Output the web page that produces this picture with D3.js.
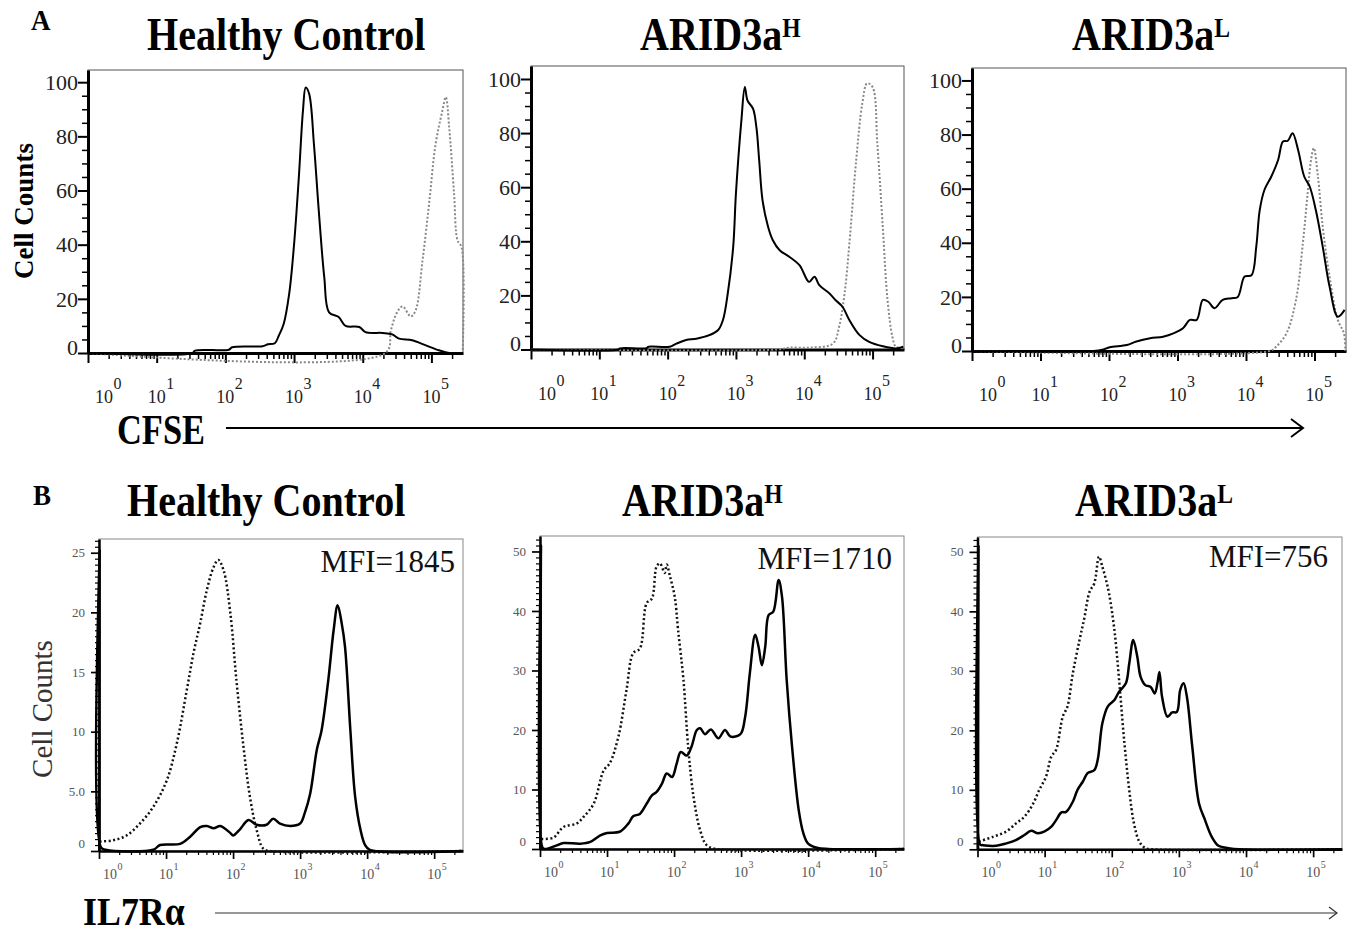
<!DOCTYPE html>
<html>
<head>
<meta charset="utf-8">
<script src="https://cdn.jsdelivr.net/npm/d3@7/dist/d3.min.js"></script>
<style>
  body { margin: 0; background: #fff; }
  svg { display: block; }
</style>
</head>
<body>
<div id="chart"></div>
<script>
var FONT = '"Liberation Serif", "Times New Roman", serif';

/* DATA : [log10 fluorescence, cell count] */

/* A - CFSE, solid = stimulated, dotted = unstimulated */
var cfseHealthySolid = [[0,0],[1.52,0],[1.56,0.9],[2.05,1.2],[2.1,2.1],[2.54,2.5],[2.62,3.2],[2.72,3.6],[2.78,6.5],[2.85,10.8],[2.93,22],[3.0,40],[3.07,65],[3.13,89.5],[3.17,98],[3.22,95.7],[3.29,77],[3.36,52.6],[3.44,28],[3.51,15],[3.65,13.3],[3.75,10],[3.95,9.6],[4.04,7.7],[4.29,7.4],[4.43,6.9],[4.53,5.3],[4.72,4.7],[4.92,2.8],[5.11,1],[5.26,0],[5.46,0]];
var cfseHealthyDotted = [[0,0],[4.33,0],[4.41,8.4],[4.5,15],[4.58,17.2],[4.7,13.5],[4.77,15.7],[4.87,34],[4.97,56],[5.06,77],[5.16,89.5],[5.21,94.5],[5.26,83],[5.33,58.8],[5.38,41.6],[5.44,39],[5.455,0]];

var cfseHighSolid = [[0,0],[1.28,0],[1.3,0.4],[1.69,0.5],[1.72,1],[2.03,1],[2.13,2.2],[2.27,3.5],[2.42,4],[2.61,5.3],[2.74,7.2],[2.81,10.9],[2.88,20.7],[2.96,38],[3.0,57.7],[3.08,84.8],[3.13,97],[3.17,92],[3.25,89],[3.3,82],[3.34,70],[3.39,55],[3.47,45.4],[3.54,40.4],[3.64,36.7],[3.78,34.3],[3.93,31.2],[4.07,25],[4.15,26.9],[4.22,23.8],[4.37,20.7],[4.46,18.2],[4.56,15.8],[4.66,10.9],[4.81,5.3],[4.95,2.8],[5.15,1.2],[5.34,0.4],[5.45,1]];
var cfseHighDotted = [[0,0],[3.6,0],[3.78,0.7],[4.1,0.7],[4.42,2.2],[4.51,8.4],[4.59,20.7],[4.66,39],[4.76,70],[4.85,91],[4.92,98.4],[5.0,97],[5.07,76],[5.15,45],[5.22,18],[5.29,4.7],[5.34,1],[5.45,0.5]];

var cfseLowSolid = [[0,0],[1.77,0],[1.92,0.6],[2.01,1.4],[2.26,2.2],[2.4,3.5],[2.6,4.7],[2.79,5.3],[2.94,6.5],[3.08,8.4],[3.18,11.5],[3.28,11.5],[3.37,18.9],[3.45,18.2],[3.54,15.8],[3.66,18.9],[3.79,19.5],[3.88,20],[3.98,27.5],[4.08,28],[4.15,38.6],[4.2,52],[4.27,59.6],[4.37,64.5],[4.47,70.7],[4.54,77.4],[4.61,77.7],[4.68,80.5],[4.76,74.4],[4.85,64.5],[4.93,60.8],[5.02,52],[5.12,38.6],[5.22,23.8],[5.34,12.7],[5.44,15.2]];
var cfseLowDotted = [[0,0],[4.34,0],[4.44,1.6],[4.59,6.5],[4.73,18.9],[4.83,39.8],[4.9,58.3],[4.95,70.7],[4.99,75],[5.05,64.5],[5.12,46],[5.22,27.5],[5.34,11.5],[5.43,6.5],[5.45,0]];

/* B - IL7Ra, solid = stain, dotted = isotype */
var il7HealthySolid = [[0.005,0],[0.01,25.2],[0.03,0.3],[0.1,0.1],[0.81,0.1],[0.91,0.5],[1.21,0.6],[1.36,1.2],[1.51,2],[1.61,2.1],[1.71,1.9],[1.81,2.1],[1.96,1.5],[2.0,1.3],[2.1,1.8],[2.23,2.6],[2.35,2.2],[2.5,2.2],[2.6,2.7],[2.7,2.3],[2.85,2.1],[3.0,2.3],[3.07,3.2],[3.15,4.8],[3.25,8.5],[3.32,10.1],[3.42,14.3],[3.5,18.5],[3.56,20.6],[3.62,19.1],[3.67,17.1],[3.75,10.1],[3.82,4.6],[3.9,1.8],[3.97,0.5],[4.04,0.1],[5.43,0]];
var il7HealthyDotted = [[0.01,0.8],[0.21,0.9],[0.41,1.3],[0.61,2.3],[0.81,3.7],[1.01,5.9],[1.16,9],[1.31,13.5],[1.41,16.6],[1.51,19.1],[1.61,21.9],[1.71,23.8],[1.78,24.4],[1.86,23.5],[1.96,19.9],[2.05,14.3],[2.15,9],[2.25,4.6],[2.35,1.8],[2.45,0.2],[2.55,0],[5.43,0]];

var il7HighSolid = [[0.005,0],[0.015,51],[0.035,0.3],[0.07,0],[0.25,0.6],[0.35,1],[0.6,0.9],[0.75,1.2],[0.9,2.3],[1.0,2.7],[1.19,2.9],[1.32,4.3],[1.39,5.5],[1.49,5.9],[1.59,7.6],[1.67,9],[1.74,9.6],[1.82,11],[1.89,12.7],[1.97,12.1],[2.04,14.4],[2.1,16.3],[2.19,15.7],[2.26,17.2],[2.34,20],[2.39,20.3],[2.46,19.3],[2.55,20.1],[2.66,18.6],[2.76,20],[2.84,18.9],[2.99,19.3],[3.06,22.2],[3.13,29.5],[3.21,36],[3.26,34],[3.31,30.9],[3.36,34],[3.41,39.3],[3.48,39.9],[3.56,45.2],[3.61,42.4],[3.68,28.4],[3.76,17.2],[3.86,6.5],[3.93,2.6],[4.0,0.9],[4.13,0.2],[4.3,0],[5.43,0]];
var il7HighDotted = [[0.02,1.7],[0.2,1.9],[0.35,3.7],[0.55,4.3],[0.65,5.4],[0.8,7.6],[0.95,13.2],[1.04,14.4],[1.17,18.9],[1.29,26.7],[1.39,32.9],[1.49,33.7],[1.59,41.3],[1.67,42.1],[1.74,47.5],[1.79,48],[1.86,46.4],[1.89,47.8],[1.94,45.8],[2.01,42.4],[2.06,36.8],[2.14,28.4],[2.21,17.2],[2.29,8.8],[2.39,3.1],[2.49,0.6],[2.64,0],[5.43,0]];

var il7LowSolid = [[0.005,0],[0.015,51],[0.04,0.8],[0.08,0.7],[0.28,0.6],[0.43,1],[0.58,1.6],[0.7,2.4],[0.8,3.1],[0.9,2.7],[1.0,3],[1.1,3.8],[1.17,4.9],[1.25,6.2],[1.32,6.3],[1.42,8],[1.49,10],[1.57,11.4],[1.64,12.8],[1.74,13.3],[1.79,15],[1.86,21.2],[1.94,24],[2.04,25.1],[2.11,26.5],[2.21,27.9],[2.26,31.2],[2.32,35.2],[2.38,32.4],[2.43,29],[2.5,27.6],[2.58,27.3],[2.64,26.2],[2.68,27.9],[2.71,29.8],[2.75,25.6],[2.83,22.3],[2.9,23],[2.97,23.1],[3.02,26.8],[3.07,27.9],[3.12,25.6],[3.2,17.2],[3.3,7.7],[3.39,4.9],[3.49,2.1],[3.59,0.6],[3.74,0.2],[3.9,0],[5.43,0]];
var il7LowDotted = [[0.02,1.3],[0.23,2.1],[0.43,3],[0.58,4.4],[0.7,5.5],[0.83,7.7],[0.92,10],[1.02,12.2],[1.1,15.6],[1.17,16.7],[1.27,22.3],[1.34,24],[1.42,29.6],[1.52,35.2],[1.59,38.8],[1.67,43.3],[1.74,44.7],[1.81,49.2],[1.86,47.5],[1.91,45.5],[1.96,43],[2.04,36.8],[2.11,28.4],[2.18,18.9],[2.26,10],[2.33,4.4],[2.41,1.3],[2.5,0.2],[2.6,0],[5.43,0]];

/* labels and ticks */
var groupTitles = ["Healthy Control", "ARID3a", "ARID3a"];
var groupSups = ["", "H", "L"];
var decades = [0, 1, 2, 3, 4, 5];
var cfseYTicks = [0, 20, 40, 60, 80, 100];
var il7YTicksHealthy = [0, 5, 10, 15, 20, 25];
var il7YLabelsHealthy = ["0", "5.0", "10", "15", "20", "25"];
var il7YTicksARID = [0, 10, 20, 30, 40, 50];
var mfiLabels = ["MFI=1845", "MFI=1710", "MFI=756"];

/* MAIN PROGRAM */

var svg = d3.select("#chart").append("svg")
    .attr("width", 1355)
    .attr("height", 933)
    .style("font-family", FONT);

/* style for each row of panels */
var styleA = {
    xmaxExp: 5.46, axisW: 3, tickW: 1.5, majorLen: 10, minorLen: 6,
    yLabelGap: 10, yLabelSize: 22, yLabelFill: "#222", zeroDy: -6,
    xBase: 18, xSup: 16, xLabelDy: 50, xSupDy: 36, zeroDx: 16, xLabelFill: "#222",
    frame: "#555", solidW: 2, dotColor: "#888", dotW: 2, dotDash: "2,2"
};
var styleB = {
    xmaxExp: 5.43, axisW: 2.5, tickW: 1.2, majorLen: 8, minorLen: 4,
    yLabelGap: 14, yLabelSize: 13, yLabelFill: "#555", zeroDy: -8,
    xBase: 14, xSup: 10, xLabelDy: 28, xSupDy: 19, zeroDx: 11, xLabelFill: "#555",
    frame: "#888", solidW: 2.5, dotColor: "#111", dotW: 2.5, dotDash: "2,2.5"
};

var cfsePanels = [
    { l: 88,  r: 463,  t: 70, b: 353,   ymax: 104.5, solid: cfseHealthySolid, dotted: cfseHealthyDotted },
    { l: 531, r: 904,  t: 66, b: 349.5, ymax: 104.8, solid: cfseHighSolid,    dotted: cfseHighDotted },
    { l: 972, r: 1346, t: 68, b: 351,   ymax: 104.6, solid: cfseLowSolid,     dotted: cfseLowDotted }
];
cfsePanels.forEach(function (p) { p.yTicks = cfseYTicks; p.yLabels = cfseYTicks.map(String); p.yStep = 5; });

var il7Panels = [
    { l: 99,    r: 463,  t: 539, b: 851,   ymax: 26.15, solid: il7HealthySolid, dotted: il7HealthyDotted,
      yTicks: il7YTicksHealthy, yLabels: il7YLabelsHealthy, yStep: 0.5, mfiX: 455, mfiY: 572 },
    { l: 540,   r: 904,  t: 536, b: 849,   ymax: 52.6, solid: il7HighSolid, dotted: il7HighDotted,
      yTicks: il7YTicksARID, yLabels: il7YTicksARID.map(String), yStep: 1, mfiX: 892, mfiY: 569 },
    { l: 977.5, r: 1342, t: 537, b: 849.3, ymax: 52.5, solid: il7LowSolid, dotted: il7LowDotted,
      yTicks: il7YTicksARID, yLabels: il7YTicksARID.map(String), yStep: 1, mfiX: 1328, mfiY: 567 }
];

/* Draws one histogram panel */
function drawPanel(p, st, idx, showMfi)
{
    var g = svg.append("g");
    var xmax = Math.pow(10, st.xmaxExp);

    var x = d3.scaleLog().domain([1, xmax]).range([p.l, p.r]);
    var y = d3.scaleLinear().domain([0, p.ymax]).range([p.b, p.t]);

    /* thin frame */
    g.append("rect")
        .attr("x", p.l).attr("y", p.t)
        .attr("width", p.r - p.l).attr("height", p.b - p.t)
        .attr("fill", "none").attr("stroke", st.frame).attr("stroke-width", 1);

    /* minor x ticks: 2..9 of every decade */
    var minorX = [];
    decades.forEach(function (d) {
        for (var k = 2; k <= 9; k++) {
            var v = k * Math.pow(10, d);
            if (v < xmax) minorX.push(v);
        }
    });
    var minorY = d3.range(0, p.ymax, p.yStep).filter(function (v) {
        return p.yTicks.indexOf(Math.round(v * 100) / 100) < 0;
    });

    g.append("g").attr("transform", "translate(0," + p.b + ")")
        .call(d3.axisBottom(x).tickValues(minorX).tickSize(st.minorLen).tickFormat(""))
        .call(function (a) { a.select(".domain").remove(); })
        .selectAll("line").attr("stroke", "#000").attr("stroke-width", st.tickW);

    g.append("g").attr("transform", "translate(" + p.l + ",0)")
        .call(d3.axisLeft(y).tickValues(minorY).tickSize(st.minorLen).tickFormat(""))
        .call(function (a) { a.select(".domain").remove(); })
        .selectAll("line").attr("stroke", "#000").attr("stroke-width", st.tickW);

    /* main axes */
    var xAxis = g.append("g").attr("transform", "translate(0," + p.b + ")")
        .call(d3.axisBottom(x).tickValues(decades.map(function (d) { return Math.pow(10, d); }))
            .tickSize(st.majorLen).tickSizeOuter(0).tickFormat(""));
    xAxis.select(".domain").attr("stroke", "#000").attr("stroke-width", st.axisW);
    xAxis.selectAll("line").attr("stroke", "#000").attr("stroke-width", st.tickW + 0.5);

    var yAxis = g.append("g").attr("transform", "translate(" + p.l + ",0)")
        .call(d3.axisLeft(y).tickValues(p.yTicks).tickSize(st.majorLen).tickSizeOuter(0).tickFormat(""));
    yAxis.select(".domain").attr("stroke", "#000").attr("stroke-width", st.axisW);
    yAxis.selectAll("line").attr("stroke", "#000").attr("stroke-width", st.tickW + 0.5);

    /* y tick labels */
    g.selectAll(".ylab").data(p.yTicks).enter().append("text")
        .attr("x", p.l - st.yLabelGap)
        .attr("y", function (d) { return y(d) + (d === 0 ? st.zeroDy : 0); })
        .attr("dy", "0.35em")
        .attr("text-anchor", "end")
        .attr("font-size", st.yLabelSize)
        .attr("fill", st.yLabelFill)
        .text(function (d, i) { return p.yLabels[i]; });

    /* x tick labels 10^n */
    decades.forEach(function (d) {
        var cx = x(Math.pow(10, d)) + (d === 0 ? st.zeroDx : 0);
        g.append("text")
            .attr("x", cx).attr("y", p.b + st.xLabelDy)
            .attr("text-anchor", "middle")
            .attr("font-size", st.xBase).attr("fill", st.xLabelFill)
            .text("10");
        g.append("text")
            .attr("x", cx + st.xBase * 0.5 + 0.5).attr("y", p.b + st.xSupDy)
            .attr("font-size", st.xSup).attr("fill", st.xLabelFill)
            .text(d);
    });

    /* histograms */
    var line = d3.line()
        .x(function (d) { return x(Math.pow(10, d[0])); })
        .y(function (d) { return y(d[1]); })
        .curve(d3.curveCatmullRom.alpha(0.5));

    g.append("path").datum(p.dotted)
        .attr("d", line)
        .attr("fill", "none")
        .attr("stroke", st.dotColor)
        .attr("stroke-width", st.dotW)
        .attr("stroke-dasharray", st.dotDash);

    g.append("path").datum(p.solid)
        .attr("d", line)
        .attr("fill", "none")
        .attr("stroke", "#000")
        .attr("stroke-width", st.solidW)
        .attr("stroke-linejoin", "round");

    if (showMfi) {
        g.append("text")
            .attr("x", p.mfiX).attr("y", p.mfiY)
            .attr("text-anchor", "end")
            .attr("font-size", 31)
            .attr("fill", "#111")
            .text(mfiLabels[idx]);
    }
}

cfsePanels.forEach(function (p, i) { drawPanel(p, styleA, i, false); });
il7Panels.forEach(function (p, i) { drawPanel(p, styleB, i, true); });

/* Condensed bold serif text helper */
function label(x, y, txt, size, sx, sup)
{
    var t = svg.append("text")
        .attr("transform", "translate(" + x + "," + y + ") scale(" + sx + ",1)")
        .attr("font-size", size)
        .attr("font-weight", "bold")
        .attr("fill", "#000")
        .text(txt);
    if (sup) {
        t.append("tspan")
            .attr("font-size", size * 0.59)
            .attr("dy", -size * 0.28)
            .text(sup);
    }
    return t;
}

/* panel letters */
label(31, 30, "A", 30, 0.9);
label(33, 505, "B", 30, 0.9);

/* group titles */
var titleXA = [147, 640, 1072];
var titleXB = [127, 622, 1075];
groupTitles.forEach(function (t, i) {
    label(titleXA[i], 50, t, 46, 0.87, groupSups[i]);
    label(titleXB[i], 516, t, 46, 0.87, groupSups[i]);
});

/* y axis titles */
svg.append("text")
    .attr("transform", "translate(33,211) rotate(-90)")
    .attr("text-anchor", "middle")
    .attr("font-size", 27).attr("font-weight", "bold")
    .text("Cell Counts");

svg.append("text")
    .attr("transform", "translate(52,709) rotate(-90)")
    .attr("text-anchor", "middle")
    .attr("font-size", 29).attr("fill", "#333")
    .text("Cell Counts");

/* x axis titles with long arrows */
label(117, 444, "CFSE", 42, 0.82);
label(83, 925, "IL7R\u03b1", 39, 0.92);

svg.append("line")
    .attr("x1", 226).attr("x2", 1303).attr("y1", 428).attr("y2", 428)
    .attr("stroke", "#000").attr("stroke-width", 2);
svg.append("path")
    .attr("d", "M1291,419L1303,428L1291,437")
    .attr("fill", "none").attr("stroke", "#000").attr("stroke-width", 2);

svg.append("line")
    .attr("x1", 215).attr("x2", 1337).attr("y1", 913).attr("y2", 913)
    .attr("stroke", "#333").attr("stroke-width", 1.2);
svg.append("path")
    .attr("d", "M1329,907L1337,913L1329,919")
    .attr("fill", "none").attr("stroke", "#333").attr("stroke-width", 1.2);
</script>
</body>
</html>
